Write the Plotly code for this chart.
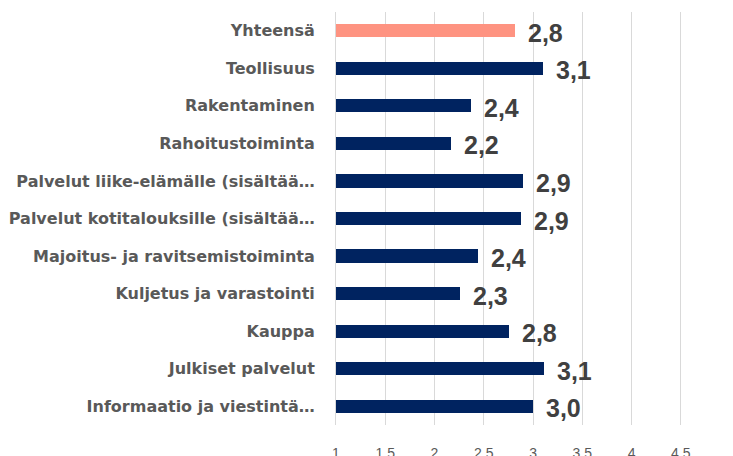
import plotly.graph_objects as go

categories = [
    "Yhteensä",
    "Teollisuus",
    "Rakentaminen",
    "Rahoitustoiminta",
    "Palvelut liike-elämälle (sisältää…",
    "Palvelut kotitalouksille (sisältää…",
    "Majoitus- ja ravitsemistoiminta",
    "Kuljetus ja varastointi",
    "Kauppa",
    "Julkiset palvelut",
    "Informaatio ja viestintä…",
]
values = [2.82, 3.10, 2.37, 2.17, 2.90, 2.88, 2.44, 2.26, 2.76, 3.11, 3.00]
tick_vals = [1, 1.5, 2, 2.5, 3, 3.5, 4, 4.5, 5]
tick_text = ["1", "1.5", "2", "2.5", "3", "3.5", "4", "4.5", "5"]

NAVY = "#002360"
SALMON = "#FE9381"
GRID = "#D9D9D9"
colors = [SALMON] + [NAVY] * (len(categories) - 1)

fig = go.Figure()
fig.add_trace(go.Bar(
    x=values,
    y=categories,
    orientation="h",
    marker=dict(color=colors, line=dict(width=0)),
    width=0.35,
    hoverinfo="skip",
))

for cat, v in zip(categories, values):
    fig.add_annotation(
        x=v, y=cat, xref="x", yref="y",
        text=f"{v:.1f}".replace(".", ","),
        showarrow=False, xanchor="left", yanchor="middle",
        xshift=11, yshift=-2,
        font=dict(family="Liberation Sans", size=25, color="#404040", weight="bold"),
    )

# page body adds an 8px offset; figure sized to fill the rest of the window
fig.update_layout(
    width=725, height=448,
    margin=dict(l=328, r=0, t=4, b=31),
    paper_bgcolor="white",
    plot_bgcolor="white",
    showlegend=False,
    bargap=0,
)
fig.update_xaxes(
    range=[1, 5.03],
    automargin=False,
    tickvals=tick_vals,
    ticktext=tick_text,
    showgrid=True, gridcolor=GRID, gridwidth=1,
    zeroline=False, showline=False,
    ticks="",
    ticklabelstandoff=18,
    ticklabeloverflow="allow",
    tickfont=dict(family="Liberation Sans", size=14, color="#595959"),
)
fig.update_yaxes(
    automargin=False,
    categoryorder="array",
    categoryarray=categories[::-1],
    showgrid=False, zeroline=False,
    showline=True, linecolor=GRID, linewidth=1,
    ticks="",
    ticklabelstandoff=17,
    tickfont=dict(family="DejaVu Sans", size=16, color="#595959", weight="bold"),
)

fig.write_html("out.html")
